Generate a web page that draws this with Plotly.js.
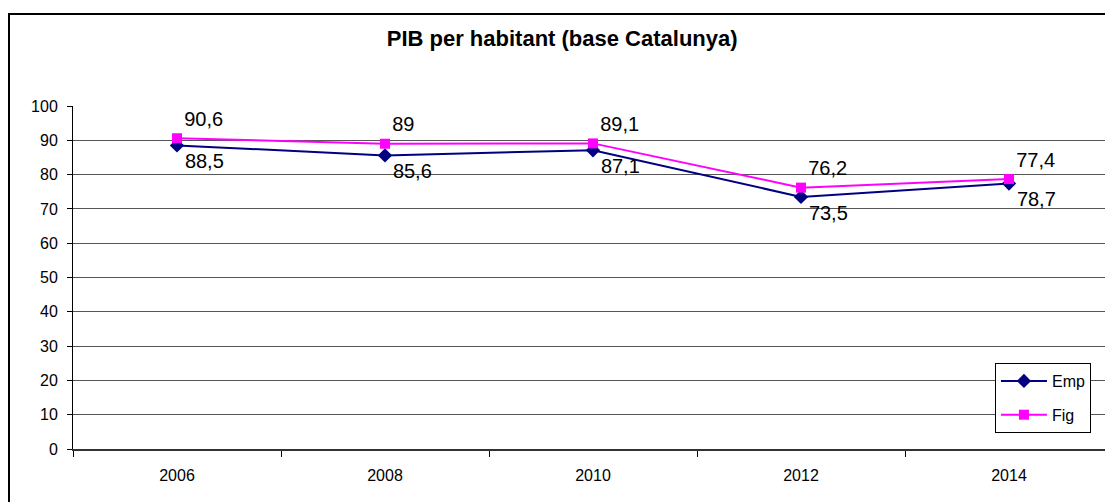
<!DOCTYPE html>
<html>
<head>
<meta charset="utf-8">
<script src="https://cdn.plot.ly/plotly-3.0.1.min.js"></script>
<style>
  html, body { margin: 0; padding: 0; background: #fff; overflow: hidden; }
  #frame { position: absolute; left: 8px; top: 13px; border: 2px solid #000; background: #fff; }
</style>
</head>
<body>
<div id="frame"><div id="chart"></div></div>
<script>
// values
const years = ['2006', '2008', '2010', '2012', '2014'];
const emp = [88.5, 85.6, 87.1, 73.5, 77.4];
const fig = [90.6, 89, 89.1, 76.2, 78.7];
// data labels exactly as printed on the chart
const empLabels = ['88,5', '85,6', '87,1', '73,5', '78,7'];
const figLabels = ['90,6', '89', '89,1', '76,2', '77,4'];

const font = 'Arial, "Liberation Sans", sans-serif';

const traces = [
    {
        x: years, y: emp, name: 'Emp', legendgroup: 'a',
        type: 'scatter', mode: 'lines+markers+text',
        text: empLabels, textposition: 'bottom right',
        textfont: { family: font, size: 20, color: '#000' },
        line: { color: '#000080', width: 2 },
        marker: { symbol: 'diamond', size: 11, color: '#000080' },
        cliponaxis: false
    },
    {
        x: years, y: fig, name: 'Fig', legendgroup: 'b',
        type: 'scatter', mode: 'lines+markers+text',
        text: figLabels, textposition: 'top right',
        textfont: { family: font, size: 20, color: '#000' },
        line: { color: '#FF00FF', width: 2 },
        marker: { symbol: 'square', size: 10, color: '#FF00FF' },
        cliponaxis: false
    }
];

const layout = {
    width: 1120,
    height: 500,
    margin: { l: 63, r: 17, t: 91, b: 66 },
    paper_bgcolor: '#fff',
    plot_bgcolor: '#fff',
    font: { family: font, size: 16, color: '#000' },
    title: {
        text: '<b>PIB per habitant (base Catalunya)</b>',
        font: { family: font, size: 22, color: '#000' },
        x: 0.493, xanchor: 'center',
        y: 0.954, yanchor: 'middle'
    },
    xaxis: {
        type: 'category',
        range: [-0.5, 4.5],
        tickson: 'boundaries',
        ticks: 'outside', ticklen: 6, tickcolor: '#000',
        showgrid: false,
        showline: true, linecolor: '#333', linewidth: 2,
        ticklabelstandoff: 11,
        tickfont: { family: font, size: 16, color: '#000' },
        zeroline: false
    },
    yaxis: {
        range: [0, 100],
        dtick: 10,
        ticks: 'outside', ticklen: 5, tickcolor: '#000',
        ticklabelstandoff: 6,
        showgrid: true, gridcolor: '#555', gridwidth: 1,
        showline: true, linecolor: '#000', linewidth: 1,
        zeroline: false,
        tickfont: { family: font, size: 16, color: '#000' }
    },
    showlegend: true,
    legend: {
        x: 0.8865, y: 0.2507, xanchor: 'left', yanchor: 'top',
        bgcolor: '#fff', bordercolor: '#000', borderwidth: 1,
        traceorder: 'grouped', tracegroupgap: 10,
        font: { family: font, size: 16, color: '#000' },
        itemwidth: 46
    }
};

Plotly.newPlot('chart', traces, layout, { displayModeBar: false, staticPlot: true });
</script>
</body>
</html>
